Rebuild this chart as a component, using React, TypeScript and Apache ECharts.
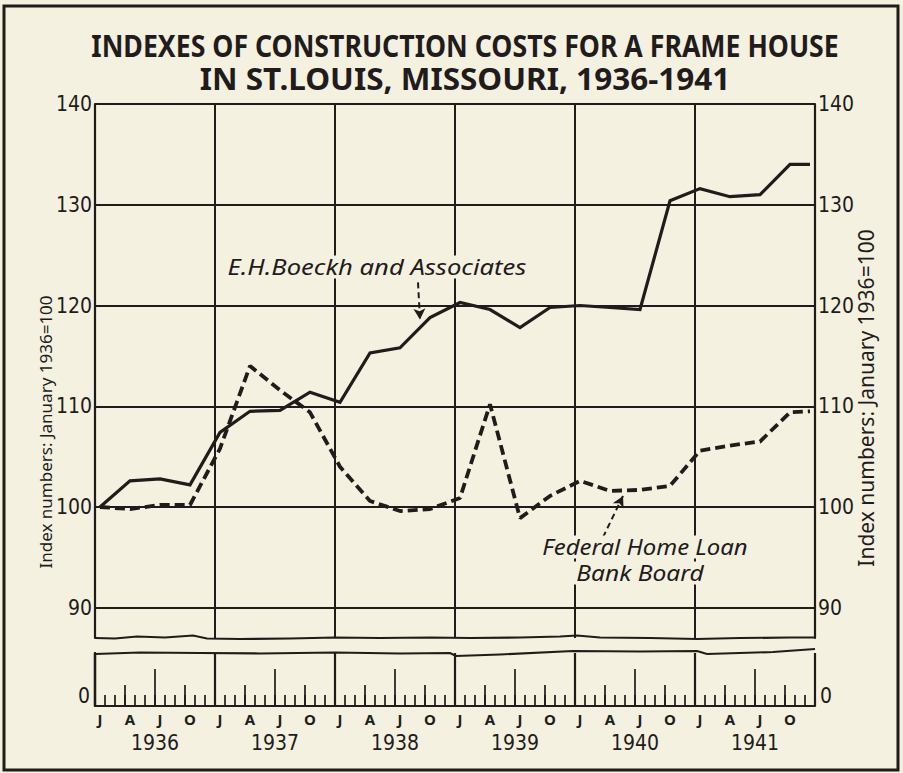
import React, { useEffect, useRef } from "react";
import * as echarts from "echarts";

// ---- data ----
const YEARS = [1936, 1937, 1938, 1939, 1940, 1941];
const QUARTER_LETTERS = ["J", "A", "J", "O"];
const PERIODS = [
  "1936-01", "1936-04", "1936-07", "1936-10",
  "1937-01", "1937-04", "1937-07", "1937-10",
  "1938-01", "1938-04", "1938-07", "1938-10",
  "1939-01", "1939-04", "1939-07", "1939-10",
  "1940-01", "1940-04", "1940-07", "1940-10",
  "1941-01", "1941-04", "1941-07", "1941-10",
  "1941-12",
];
const BOECKH = [
  100.0, 102.6, 102.8, 102.2,
  107.4, 109.5, 109.6, 111.4,
  110.4, 115.3, 115.8, 118.8,
  120.3, 119.6, 117.8, 119.8,
  120.0, 119.8, 119.6, 130.4,
  131.6, 130.8, 131.0, 134.0,
  134.0,
];
const FHLBB = [
  100.0, 99.8, 100.2, 100.2,
  105.8, 114.0, 111.6, 109.4,
  104.0, 100.6, 99.6, 99.8,
  100.9, 110.2, 98.9, 101.1,
  102.6, 101.6, 101.7, 102.1,
  105.6, 106.1, 106.5, 109.4,
  109.5,
];
const Y_TICKS = [90, 100, 110, 120, 130, 140];
const Y_MIN = 87;
const Y_MAX = 140;
const BOECKH_LABEL = "E.H.Boeckh and Associates";
const FHLBB_LABEL = ["Federal Home Loan", "Bank Board"];
const TITLE = [
  "INDEXES OF CONSTRUCTION COSTS FOR A FRAME HOUSE",
  "IN ST.LOUIS, MISSOURI, 1936-1941",
];
const Y_NAME = "Index numbers: January 1936=100";
// annotation arrows: [month, value] start -> end
const BOECKH_ARROW = [[32.3, 122.3], [32.5, 118.6]];
const FHLBB_ARROW = [[50.8, 97.0], [52.8, 101.1]];

const INK = "#221b1c";
const PAPER = "#f4f1e0";
const NUM_FONT =
  "'Liberation Sans Narrow', 'DejaVu Sans Condensed', 'Noto Sans', sans-serif";
const TEXT_FONT = "'Noto Sans', 'DejaVu Sans', sans-serif";

export default function App() {
  const ref = useRef<HTMLDivElement>(null);

  useEffect(() => {
    const chart = echarts.init(ref.current!, null, { renderer: "svg" });

    const pos = (p: string) => {
      const [y, m] = p.split("-").map(Number);
      return (y - YEARS[0]) * 12 + (m - 1) + 0.5;
    };
    const boeckh = PERIODS.map((p, i) => [pos(p), BOECKH[i]]);
    const fhlbb = PERIODS.map((p, i) => [pos(p), FHLBB[i]]);
    const totalMonths = YEARS.length * 12;
    const innerYearLines = YEARS.slice(1).map((_, i) => (i + 1) * 12);
    const medTicks = YEARS.flatMap((_, i) => [i * 12 + 3, i * 12 + 9]);
    const tallTicks = YEARS.map((_, i) => i * 12 + 6);
    const monthLabelPos = YEARS.flatMap((_, i) =>
      QUARTER_LETTERS.map((__, q) => i * 12 + q * 3 + 0.5)
    );

    const L = 95;
    const W = 720;
    const axisNum = {
      color: INK,
      fontSize: 21,
      fontFamily: NUM_FONT,
    };

    const upperY = (position: string) => ({
      gridIndex: 0,
      type: "value",
      position,
      min: Y_MIN,
      max: Y_MAX,
      axisLine: { show: true, lineStyle: { color: INK, width: 2.2 } },
      axisTick: { show: false },
      splitLine: { show: false },
      axisLabel: { ...axisNum, margin: 3, customValues: Y_TICKS },
    });
    const lowerY = (position: string) => ({
      gridIndex: 1,
      type: "value",
      position,
      min: 0,
      max: 5,
      axisLine: { show: true, lineStyle: { color: INK, width: 2.2 } },
      axisTick: { show: false },
      splitLine: { show: false },
      axisLabel: { ...axisNum, margin: 5, customValues: [0], verticalAlign: "bottom" },
    });
    const lowerX = (extra: any) => ({
      gridIndex: 1,
      type: "value",
      position: "bottom",
      min: 0,
      max: totalMonths,
      axisLine: { show: false },
      axisTick: { show: false },
      axisLabel: { show: false },
      splitLine: { show: false },
      ...extra,
    });

    const wave = (pts: number[][]) => ({
      type: "polyline",
      z: 50,
      shape: { points: pts },
      style: { stroke: INK, lineWidth: 2.2, fill: null },
    });

    const label = (t: string, x: number, y: number, size: number, sx: number) => ({
      type: "text",
      z: 60,
      x,
      y,
      scaleX: sx,
      style: {
        text: t,
        fill: INK,
        font: `italic ${size}px ${TEXT_FONT}`,
        textAlign: "center",
        textVerticalAlign: "middle",
        backgroundColor: PAPER,
        padding: [1, 3],
      },
    });

    chart.setOption({
      animation: false,
      backgroundColor: PAPER,
      grid: [
        { left: L, width: W, top: 104, height: 534 },
        { left: L, width: W, top: 653, height: 53 },
      ],
      xAxis: [
        { gridIndex: 0, type: "value", min: 0, max: totalMonths, show: false },
        lowerX({
          interval: 1,
          axisLine: { show: true, lineStyle: { color: INK, width: 2.2 } },
          axisTick: { show: true, inside: true, length: 11, lineStyle: { color: INK, width: 1.7 } },
        }),
        lowerX({
          axisTick: {
            show: true,
            inside: true,
            length: 21,
            customValues: medTicks,
            lineStyle: { color: INK, width: 1.7 },
          },
          axisLabel: {
            show: true,
            customValues: monthLabelPos,
            margin: 5,
            color: INK,
            fontSize: 15,
            fontWeight: "bold",
            fontFamily: TEXT_FONT,
            formatter: (v: number) =>
              QUARTER_LETTERS[Math.floor(((v - 0.5) % 12) / 3)],
          },
        }),
        lowerX({
          axisTick: {
            show: true,
            inside: true,
            length: 37,
            customValues: tallTicks,
            lineStyle: { color: INK, width: 1.7 },
          },
          axisLabel: {
            show: true,
            customValues: tallTicks,
            margin: 26,
            ...axisNum,
            formatter: (v: number) => String(YEARS[Math.floor(v / 12)]),
          },
        }),
        lowerX({
          interval: 12,
          splitLine: { show: true, lineStyle: { color: INK, width: 2.2 } },
        }),
      ],
      yAxis: [upperY("left"), upperY("right"), lowerY("left"), lowerY("right")],
      series: [
        {
          type: "line",
          xAxisIndex: 0,
          yAxisIndex: 0,
          data: [],
          z: 1,
          silent: true,
          markLine: {
            silent: true,
            symbol: ["none", "none"],
            label: { show: false },
            lineStyle: { color: INK, width: 2, type: "solid" },
            data: [
              ...Y_TICKS.map((v) => ({ yAxis: v })),
              ...innerYearLines.map((m) => ({ xAxis: m })),
            ],
          },
        },
        {
          name: BOECKH_LABEL,
          type: "line",
          xAxisIndex: 0,
          yAxisIndex: 0,
          data: boeckh,
          symbol: "none",
          z: 5,
          lineStyle: { color: INK, width: 3.2, join: "miter" },
        },
        {
          name: FHLBB_LABEL.join(" "),
          type: "line",
          xAxisIndex: 0,
          yAxisIndex: 0,
          data: fhlbb,
          symbol: "none",
          z: 4,
          lineStyle: { color: INK, width: 3.8, type: [10, 5] },
        },
        {
          type: "line",
          xAxisIndex: 0,
          yAxisIndex: 0,
          data: [],
          z: 6,
          silent: true,
          markLine: {
            silent: true,
            symbol: ["none", "arrow"],
            symbolSize: [9, 11],
            label: { show: false },
            lineStyle: { color: INK, width: 2, type: [6, 4] },
            data: [
              [{ coord: BOECKH_ARROW[0] }, { coord: BOECKH_ARROW[1] }],
              [{ coord: FHLBB_ARROW[0] }, { coord: FHLBB_ARROW[1] }],
            ],
          },
        },
      ],
      graphic: [
        {
          type: "rect",
          z: 60,
          shape: { x: 4, y: 6, width: 894, height: 764 },
          style: { fill: null, stroke: INK, lineWidth: 3 },
        },
        ...TITLE.map((t, i) => ({
          type: "text",
          z: 60,
          x: 465,
          y: 45 + i * 33,
          scaleX: i === 0 ? 0.89 : 1.05,
          style: {
            text: t,
            fill: INK,
            font: `bold 30px ${TEXT_FONT}`,
            textAlign: "center",
            textVerticalAlign: "middle",
          },
        })),
        {
          type: "text",
          z: 60,
          x: 45,
          y: 432,
          rotation: Math.PI / 2,
          style: {
            text: Y_NAME,
            fill: INK,
            font: `17px ${TEXT_FONT}`,
            textAlign: "center",
            textVerticalAlign: "middle",
          },
        },
        {
          type: "text",
          z: 60,
          x: 866,
          y: 398,
          rotation: Math.PI / 2,
          style: {
            text: Y_NAME,
            fill: INK,
            font: `21px ${TEXT_FONT}`,
            textAlign: "center",
            textVerticalAlign: "middle",
          },
        },
        label(BOECKH_LABEL, 377, 267, 21, 1.22),
        label(FHLBB_LABEL[0], 645, 547, 21, 1.14),
        label(FHLBB_LABEL[1], 640, 573, 21, 1.17),
        wave([
          [95, 638], [115, 638.5], [137, 636.5], [165, 637.5], [193, 635.5],
          [207, 638.5], [240, 639], [290, 638.5], [335, 637.5], [380, 638],
          [430, 637.5], [470, 638], [520, 637.5], [560, 636.5], [577, 635.5],
          [600, 637.5], [650, 638], [697, 639], [740, 638], [790, 637.5], [815, 637.5],
        ]),
        wave([
          [95, 654], [140, 652.5], [200, 653], [260, 653.5], [335, 652.5],
          [400, 653.5], [450, 653], [456, 656], [500, 654.5], [573, 651],
          [640, 651.5], [697, 651], [707, 654], [773, 652], [815, 649],
        ]),
      ],
    });

    return () => chart.dispose();
  }, []);

  return (
    <div
      ref={ref}
      style={{
        position: "absolute",
        left: 0,
        top: 0,
        width: 903,
        height: 773,
        background: PAPER,
      }}
    />
  );
}
